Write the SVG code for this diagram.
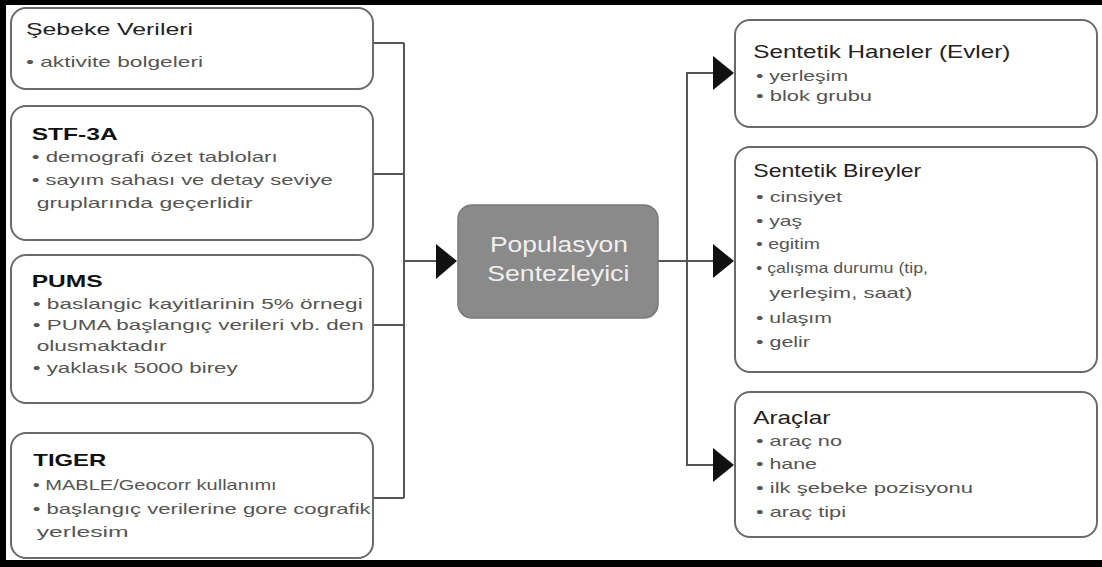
<svg xmlns="http://www.w3.org/2000/svg" width="1102" height="567" viewBox="0 0 1102 567">
<style>
.box{fill:#fff;stroke:#6a6a6a;stroke-width:2}
.t{font-family:"Liberation Sans",Arial,sans-serif;font-size:19px;fill:#222}
.tb{font-family:"Liberation Sans",Arial,sans-serif;font-size:17px;font-weight:bold;fill:#111}
.tl{font-family:"Liberation Sans",Arial,sans-serif;font-size:17px;fill:#222}
.b{font-family:"Liberation Sans",Arial,sans-serif;font-size:15px;fill:#555}
.c{font-family:"Liberation Sans",Arial,sans-serif;font-size:22px;fill:#f0f0f0}
.ln{fill:none;stroke:#555;stroke-width:2}
.ah{fill:#111}
</style>
<rect x="0" y="0" width="1102" height="567" fill="#fff"/>
<g id="frame" fill="#000">
<rect x="0" y="0" width="1102" height="5"/>
<rect x="0" y="0" width="6" height="567"/>
<rect x="0" y="560" width="1102" height="7"/>
</g>
<g id="connectors">
<polyline class="ln" points="373,43 404,43"/>
<polyline class="ln" points="373,174 404,174"/>
<polyline class="ln" points="373,325 404,325"/>
<polyline class="ln" points="373,498 404,498"/>
<polyline class="ln" points="404,43 404,498"/>
<polyline class="ln" points="404,261 438,261"/>
<polygon class="ah" points="457,261 436,244 436,279"/>
<polyline class="ln" points="658,261 715,261"/>
<polyline class="ln" points="715,73 687,73 687,465 715,465"/>
<polygon class="ah" points="734,73 713,56 713,90"/>
<polygon class="ah" points="734,261 713,244 713,278"/>
<polygon class="ah" points="734,465 713,448 713,482"/>
</g>
<g id="sebeke">
<rect class="box" x="11" y="8" width="362" height="81" rx="15"/>
<text class="tl" x="26" y="35" textLength="167" lengthAdjust="spacingAndGlyphs">Şebeke Verileri</text>
<text class="b" x="26" y="67" textLength="177" lengthAdjust="spacingAndGlyphs">• aktivite bolgeleri</text>
</g>
<g id="stf3a">
<rect class="box" x="11" y="106" width="362" height="134" rx="15"/>
<text class="tb" x="31.7" y="140" textLength="86" lengthAdjust="spacingAndGlyphs">STF-3A</text>
<text class="b" x="31.7" y="162" textLength="246" lengthAdjust="spacingAndGlyphs">• demografi özet tabloları</text>
<text class="b" x="31.7" y="185" textLength="301" lengthAdjust="spacingAndGlyphs">• sayım sahası ve detay seviye</text>
<text class="b" x="36.7" y="208" textLength="216" lengthAdjust="spacingAndGlyphs">gruplarında geçerlidir</text>
</g>
<g id="pums">
<rect class="box" x="11" y="255" width="362" height="148" rx="15"/>
<text class="tb" x="31.7" y="287" textLength="71" lengthAdjust="spacingAndGlyphs">PUMS</text>
<text class="b" x="32.7" y="309" textLength="330" lengthAdjust="spacingAndGlyphs">• baslangic kayitlarinin 5% örnegi</text>
<text class="b" x="32.7" y="330" textLength="331" lengthAdjust="spacingAndGlyphs">• PUMA başlangıç verileri vb. den</text>
<text class="b" x="36.7" y="351" textLength="130" lengthAdjust="spacingAndGlyphs">olusmaktadır</text>
<text class="b" x="32.7" y="373" textLength="205" lengthAdjust="spacingAndGlyphs">• yaklasık 5000 birey</text>
</g>
<g id="tiger">
<rect class="box" x="11" y="433" width="362" height="125" rx="15"/>
<text class="tb" x="33.3" y="466" textLength="73" lengthAdjust="spacingAndGlyphs">TIGER</text>
<text class="b" x="32.7" y="490" textLength="244" lengthAdjust="spacingAndGlyphs">• MABLE/Geocorr kullanımı</text>
<text class="b" x="32.7" y="514" textLength="338" lengthAdjust="spacingAndGlyphs">• başlangıç verilerine gore cografik</text>
<text class="b" x="36.7" y="537" textLength="92" lengthAdjust="spacingAndGlyphs">yerlesim</text>
</g>
<g id="populasyon">
<rect x="458" y="205" width="200" height="113" rx="14" fill="#8a8a8a" stroke="#7a7a7a" stroke-width="1.5"/>
<text class="c" x="490" y="252" textLength="138" lengthAdjust="spacingAndGlyphs">Populasyon</text>
<text class="c" x="487.3" y="281" textLength="142" lengthAdjust="spacingAndGlyphs">Sentezleyici</text>
</g>
<g id="haneler">
<rect class="box" x="735" y="20" width="362" height="107" rx="15"/>
<text class="t" x="753.3" y="58" textLength="257" lengthAdjust="spacingAndGlyphs">Sentetik Haneler (Evler)</text>
<text class="b" x="756" y="81" textLength="92" lengthAdjust="spacingAndGlyphs">• yerleşim</text>
<text class="b" x="756" y="101" textLength="116" lengthAdjust="spacingAndGlyphs">• blok grubu</text>
</g>
<g id="bireyler">
<rect class="box" x="735" y="147" width="362" height="225" rx="15"/>
<text class="t" x="753.3" y="177" textLength="168" lengthAdjust="spacingAndGlyphs">Sentetik Bireyler</text>
<text class="b" x="756" y="202" textLength="86" lengthAdjust="spacingAndGlyphs">• cinsiyet</text>
<text class="b" x="756" y="226" textLength="46" lengthAdjust="spacingAndGlyphs">• yaş</text>
<text class="b" x="756" y="249" textLength="64" lengthAdjust="spacingAndGlyphs">• egitim</text>
<text class="b" x="756" y="273" textLength="172" lengthAdjust="spacingAndGlyphs">• çalışma durumu (tip,</text>
<text class="b" x="769.3" y="298" textLength="143" lengthAdjust="spacingAndGlyphs">yerleşim, saat)</text>
<text class="b" x="756" y="323" textLength="76" lengthAdjust="spacingAndGlyphs">• ulaşım</text>
<text class="b" x="756" y="347" textLength="54" lengthAdjust="spacingAndGlyphs">• gelir</text>
</g>
<g id="araclar">
<rect class="box" x="735" y="392" width="362" height="145" rx="15"/>
<text class="t" x="753.3" y="424" textLength="77" lengthAdjust="spacingAndGlyphs">Araçlar</text>
<text class="b" x="756" y="446" textLength="86" lengthAdjust="spacingAndGlyphs">• araç no</text>
<text class="b" x="756" y="469" textLength="61" lengthAdjust="spacingAndGlyphs">• hane</text>
<text class="b" x="756" y="493" textLength="217" lengthAdjust="spacingAndGlyphs">• ilk şebeke pozisyonu</text>
<text class="b" x="756" y="517" textLength="90" lengthAdjust="spacingAndGlyphs">• araç tipi</text>
</g>
</svg>
